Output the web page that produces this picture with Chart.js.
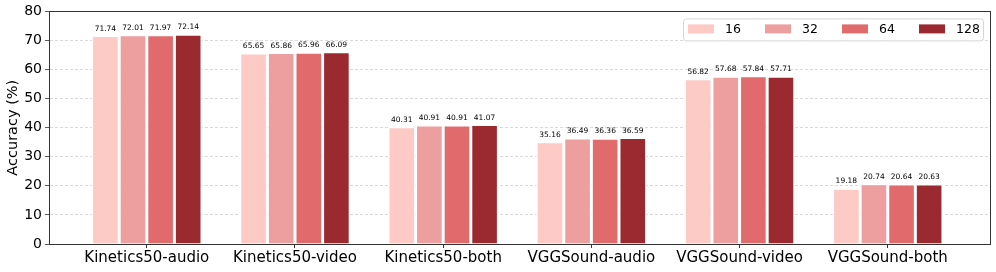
<!DOCTYPE html>
<html>
<head>
<meta charset="utf-8">
<script src="https://cdn.jsdelivr.net/npm/chart.js@4.4.0/dist/chart.umd.min.js"></script>
<style>
  body { margin: 0; background: #fff; }
  canvas { display: block; }
</style>
</head>
<body>
<canvas id="accChart" width="996" height="272"></canvas>
<script>
const categories = ['Kinetics50-audio', 'Kinetics50-video', 'Kinetics50-both', 'VGGSound-audio', 'VGGSound-video', 'VGGSound-both'];
const seriesNames = ['16', '32', '64', '128'];
const acc16 = [71.74, 65.65, 40.31, 35.16, 56.82, 19.18];
const acc32 = [72.01, 65.86, 40.91, 36.49, 57.68, 20.74];
const acc64 = [71.97, 65.96, 40.91, 36.36, 57.84, 20.64];
const acc128 = [72.14, 66.09, 41.07, 36.59, 57.71, 20.63];
const yTicks = [0, 10, 20, 30, 40, 50, 60, 70, 80];

const colors = ['#fdcac6', '#ed9e9e', '#e06a6c', '#9b2a30'];
const fontFamily = "'DejaVu Sans', sans-serif";

const allSeries = [acc16, acc32, acc64, acc128];

// value labels above each bar
const barLabels = {
    id: 'barLabels',
    afterDatasetsDraw(chart) {
        const ctx = chart.ctx;
        ctx.save();
        ctx.font = '7.5px ' + fontFamily;
        ctx.fillStyle = '#000';
        ctx.textAlign = 'center';
        ctx.textBaseline = 'bottom';
        chart.data.datasets.forEach((ds, i) => {
            chart.getDatasetMeta(i).data.forEach((bar, j) => {
                ctx.fillText(ds.data[j].y.toFixed(2), bar.x, bar.y - 3);
            });
        });
        ctx.restore();
    }
};

// full box around the plot + legend in the upper right
const frameAndLegend = {
    id: 'frameAndLegend',
    afterDraw(chart) {
        const ctx = chart.ctx;
        const a = chart.chartArea;
        ctx.save();
        ctx.strokeStyle = '#333';
        ctx.lineWidth = 1;
        ctx.strokeRect(Math.round(a.left) + 0.5, Math.round(a.top) + 0.5,
            Math.round(a.right - a.left), Math.round(a.bottom - a.top));

        // legend
        const boxW = 300, boxH = 22;
        const bx = a.right - 7 - boxW, by = a.top + 7;
        ctx.fillStyle = 'rgba(255,255,255,0.85)';
        ctx.strokeStyle = '#d6d6d6';
        ctx.beginPath();
        ctx.roundRect(bx + 0.5, by + 0.5, boxW, boxH, 3);
        ctx.fill();
        ctx.stroke();
        ctx.font = '12.5px ' + fontFamily;
        ctx.textBaseline = 'middle';
        ctx.textAlign = 'left';
        seriesNames.forEach((name, i) => {
            const sx = bx + 5 + i * 77;
            ctx.fillStyle = colors[i];
            ctx.fillRect(sx, by + 6, 26, 9);
            ctx.fillStyle = '#000';
            ctx.fillText(name, sx + 37, by + 11.5);
        });
        ctx.restore();
    }
};

const datasets = seriesNames.map((name, i) => ({
    label: name,
    data: allSeries[i].map((v, j) => ({ x: j, y: v })),
    backgroundColor: colors[i],
    borderColor: '#ffffff',
    borderWidth: 1.5,
    borderSkipped: 'bottom',
    barPercentage: 1.0,
    categoryPercentage: 0.745
}));

new Chart(document.getElementById('accChart'), {
    type: 'bar',
    data: { datasets },
    plugins: [barLabels, frameAndLegend],
    options: {
        responsive: false,
        animation: false,
        layout: { padding: { top: 11, right: 6, left: 0, bottom: 0 } },
        plugins: {
            legend: { display: false },
            tooltip: { enabled: false }
        },
        scales: {
            x: {
                type: 'linear',
                offset: false,
                min: -0.66,
                max: 5.69,
                afterBuildTicks(scale) {
                    scale.ticks = categories.map((_, i) => ({ value: i }));
                },
                afterFit(scale) { scale.height = 28; },
                ticks: {
                    callback: (v) => categories[v],
                    color: '#000',
                    font: { family: fontFamily, size: 15 },
                    padding: 1,
                    maxRotation: 0,
                    autoSkip: false
                },
                grid: {
                    offset: false,
                    drawOnChartArea: false,
                    drawTicks: true,
                    tickLength: 4,
                    tickColor: '#333',
                    color: '#333'
                },
                border: { color: '#333', width: 1 }
            },
            y: {
                min: 0,
                max: 80,
                afterBuildTicks(scale) {
                    scale.ticks = yTicks.map(v => ({ value: v }));
                },
                afterFit(scale) { scale.width = 49; },
                title: {
                    display: true,
                    text: 'Accuracy (%)',
                    color: '#000',
                    font: { family: fontFamily, size: 14.5 },
                    padding: { top: 5, bottom: 0 }
                },
                ticks: {
                    color: '#000',
                    font: { family: fontFamily, size: 14 },
                    padding: 3
                },
                grid: {
                    color: '#d0d0d0',
                    lineWidth: 0.8,
                    tickLength: 4,
                    tickColor: '#333',
                    tickBorderDash: []
                },
                border: { color: '#333', width: 1, dash: [3, 2] }
            }
        }
    }
});
</script>
</body>
</html>
